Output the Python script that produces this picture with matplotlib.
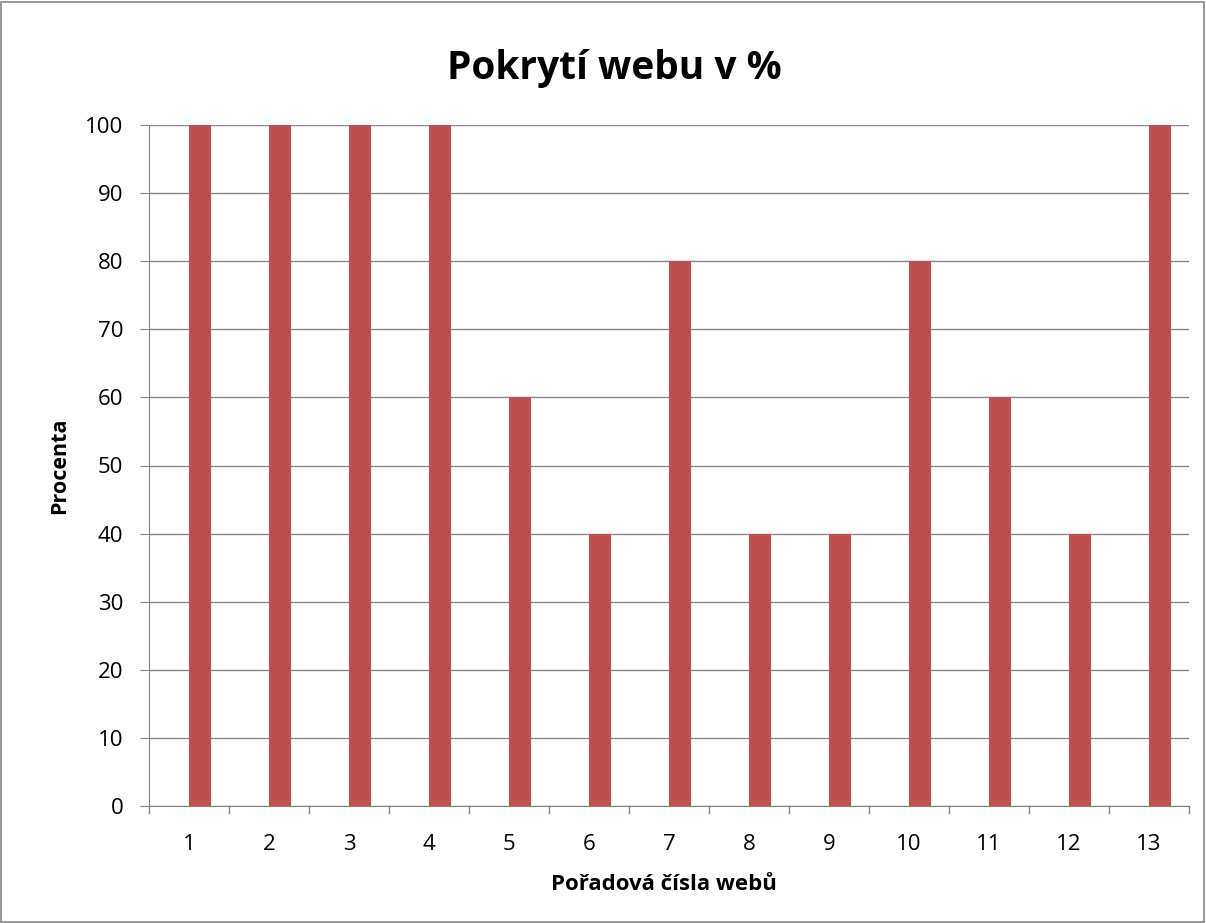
import matplotlib
matplotlib.use("Agg")
import matplotlib.pyplot as plt
import numpy as np

# data
categories = [str(i) for i in range(1, 14)]
values = [100, 100, 100, 100, 60, 40, 80, 40, 40, 80, 60, 40, 100]
y_ticks = list(range(0, 101, 10))

plt.rcParams['font.family'] = ['Open Sans', 'DejaVu Sans']

W, H = 1206, 923
fig = plt.figure(figsize=(W / 100, H / 100), dpi=100)
ax = fig.add_axes([149 / W, 1 - 806 / H, (1189 - 149) / W, (806 - 125) / H])

x = np.arange(len(categories))
ax.bar(x, values, width=0.28, align='edge', color='#C0504D', zorder=3)

ax.set_xlim(-0.5, len(categories) - 0.5)
ax.set_ylim(0, 100)
ax.set_yticks(y_ticks)
ax.set_yticklabels([str(v) for v in y_ticks], fontsize=16)
ax.set_xticks(x)
ax.set_xticklabels(categories, fontsize=16)
ax.tick_params(axis='x', length=0, pad=20)
ax.tick_params(axis='y', length=6.5, color='#868686', pad=12)

# category boundary tick marks below x axis
for b in np.arange(-0.5, len(categories) + 0.5, 1):
    ax.plot([b, b], [0, -1.1], color='#868686', lw=1, clip_on=False, zorder=4)

ax.yaxis.grid(True, color='#868686', lw=1, zorder=0)
for s in ['top', 'right']:
    ax.spines[s].set_visible(False)
ax.spines['left'].set_color('#868686')
ax.spines['bottom'].set_color('#868686')

fig.text(60 / W, 1 - 466 / H, 'Procenta', rotation=90, ha='center', va='center',
         fontsize=15.5, fontweight='bold')
fig.text(664 / W, 1 - 885 / H, 'Pořadová čísla webů', ha='center', va='center',
         fontsize=16, fontweight='bold')
fig.text(614 / W, 1 - 68 / H, 'Pokrytí webu v %', ha='center', va='center',
         fontsize=28, fontweight='bold')

# outer border
fig.patches.append(plt.Rectangle((0.001, 0.001), 0.997, 0.997, transform=fig.transFigure,
                                 fill=False, edgecolor='#868686', lw=1.2))

fig.savefig('out.png', dpi=100)
